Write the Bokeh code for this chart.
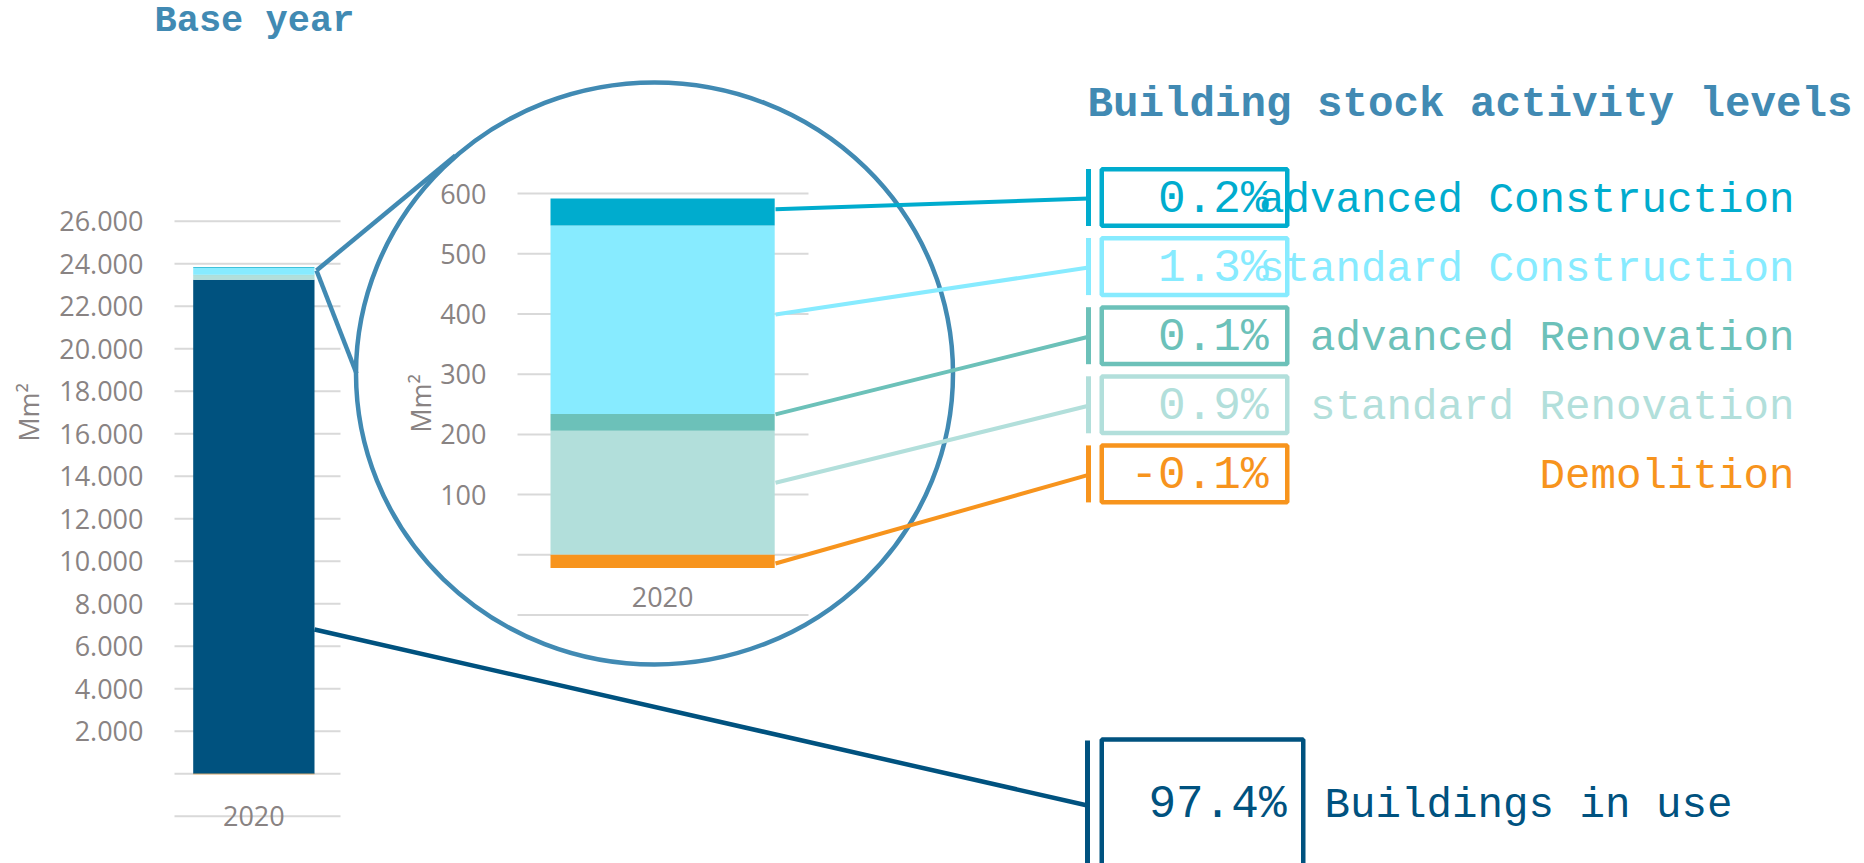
import numpy as np
from bokeh.plotting import figure
from bokeh.models import Range1d
from bokeh.core.properties import value
from bokeh.embed import file_html
from bokeh.resources import INLINE

# ---------------- data ----------------
years = ["2020"]
series = ["Demolition", "standard Renovation", "advanced Renovation",
          "standard Construction", "advanced Construction"]
series_values = [-22, 206, 28, 313, 45]          # Mm², year 2020
series_shares = ["-0.1%", "0.9%", "0.1%", "1.3%", "0.2%"]
in_use_name = "Buildings in use"
in_use_value = 23250                              # Mm², year 2020
in_use_share = "97.4%"

left_grid = [-2000, 0, 2000, 4000, 6000, 8000, 10000, 12000, 14000, 16000,
             18000, 20000, 22000, 24000, 26000]
left_ticks = [2000, 4000, 6000, 8000, 10000, 12000, 14000, 16000, 18000,
              20000, 22000, 24000, 26000]
left_tick_labels = ["2.000", "4.000", "6.000", "8.000", "10.000", "12.000",
                    "14.000", "16.000", "18.000", "20.000", "22.000",
                    "24.000", "26.000"]
inner_grid = [-100, 0, 100, 200, 300, 400, 500, 600]
inner_ticks = [100, 200, 300, 400, 500, 600]
inner_tick_labels = ["100", "200", "300", "400", "500", "600"]

# ---------------- styles ----------------
series_colors = ["#F7941D", "#B2DFDB", "#6CC1B9", "#87EBFF", "#00ACCE"]
in_use_color = "#00527F"
accent = "#418AB3"
grid_color = "#D9D9D9"
tick_color = "#898383"
mono = value("Liberation Mono")
sans = value("Open Sans")

W, H = 1864, 863
DY = -11  # baseline correction for monospace texts


def xr(v0, p0, v1, p1):
    k = (v1 - v0) / (p1 - p0)
    return Range1d(v0 + (0 - p0) * k, v0 + (W - p0) * k)


def yr(v0, p0, v1, p1):
    k = (v1 - v0) / (p1 - p0)
    return Range1d(v0 + (H - p0) * k, v0 + (0 - p0) * k)


p = figure(width=W, height=H, x_range=Range1d(0, W), y_range=Range1d(H, 0),
           output_backend="svg", toolbar_location=None, min_border=0,
           x_axis_type=None, y_axis_type=None, outline_line_color=None,
           background_fill_color="white", border_fill_color="white")

BW = 0.6
p.extra_x_ranges = {"lx": xr(0, 253.35, BW / 2, 314.0),
                    "ix": xr(0, 662.1, BW / 2, 774.2)}
p.extra_y_ranges = {"ly": yr(0, 773.3, 2000, 730.8),
                    "iy": yr(0, 554.3, 100, 494.1)}

# ---------------- left chart (whole stock) ----------------
p.segment(x0=174, x1=340, y0=left_grid, y1=left_grid, y_range_name="ly",
          line_color=grid_color, line_width=2)
p.text(x=143, y=left_ticks, text=left_tick_labels, y_range_name="ly",
       text_align="right", text_baseline="middle", text_font=sans,
       text_font_size="27px", text_color=tick_color)
p.text(x=[0], y=[815], text=years, x_range_name="lx", text_align="center",
       text_baseline="middle", text_font=sans, text_font_size="27px",
       text_color=tick_color)
p.text(x=[28], y=[412], text=["Mm²"], angle=np.pi / 2, text_align="center",
       text_baseline="middle", text_font=sans, text_font_size="27px",
       text_color=tick_color)

pos_vals = np.array([in_use_value] + series_values[1:], dtype=float)
pos_cols = [in_use_color] + series_colors[1:]
tops = np.cumsum(pos_vals)
bots = tops - pos_vals
lb = list(bots) + [series_values[0]]
lt = list(tops) + [0]
p.vbar(x=[0] * len(lb), width=BW, bottom=lb, top=lt,
       fill_color=pos_cols + [series_colors[0]], line_color=None,
       x_range_name="lx", y_range_name="ly")

# ---------------- inner (zoomed) chart ----------------
p.segment(x0=517, x1=808, y0=inner_grid, y1=inner_grid, y_range_name="iy",
          line_color=grid_color, line_width=2)
p.text(x=486, y=inner_ticks, text=inner_tick_labels, y_range_name="iy",
       text_align="right", text_baseline="middle", text_font=sans,
       text_font_size="27px", text_color=tick_color)
p.text(x=[0], y=[596], text=years, x_range_name="ix", text_align="center",
       text_baseline="middle", text_font=sans, text_font_size="27px",
       text_color=tick_color)
p.text(x=[420], y=[403], text=["Mm²"], angle=np.pi / 2, text_align="center",
       text_baseline="middle", text_font=sans, text_font_size="27px",
       text_color=tick_color)

ivals = np.array(series_values[1:], dtype=float)
itops = np.cumsum(ivals)
ibots = itops - ivals
p.vbar(x=[0] * 5, width=BW, bottom=list(ibots) + [series_values[0]],
       top=list(itops) + [0], fill_color=series_colors[1:] + [series_colors[0]],
       line_color=None, x_range_name="ix", y_range_name="iy")

# ---------------- magnifier ----------------
p.ellipse(x=654, y=373, width=597, height=582, fill_color=None,
          line_color=accent, line_width=4.5)
p.segment(x0=[316, 316], y0=[270, 270], x1=[455, 356], y1=[155, 373],
          line_color=accent, line_width=4.5)

# ---------------- callouts ----------------
row_c = [473.4, 404.3, 335.2, 266.1, 197.0]   # demolition ... adv construction
start_y = [563, 482.3, 413.9, 313.9, 208.7]
p.segment(x0=775, x1=1088, y0=start_y, y1=[c + 1 for c in row_c],
          line_color=series_colors, line_width=4)
p.segment(x0=1088, x1=1088, y0=[c - 28.5 for c in row_c],
          y1=[c + 28.5 for c in row_c], line_color=series_colors, line_width=5)
p.rect(x=1194, y=row_c, width=185.5, height=56.6, fill_color=None,
       line_color=series_colors, line_width=4.5)
p.text(x=1268, y=[c + 14 + DY - 1 for c in row_c], text=series_shares,
       text_align="right", text_baseline="alphabetic", text_font=mono,
       text_font_size="46px", text_color=series_colors)
p.text(x=1794, y=[c + 14.5 + DY for c in row_c], text=series,
       text_align="right", text_baseline="alphabetic", text_font=mono,
       text_font_size="42.5px", text_color=series_colors)

# buildings in use callout
p.segment(x0=[314], y0=[629], x1=[1087], y1=[805], line_color=in_use_color,
          line_width=4.5)
p.segment(x0=[1087], x1=[1087], y0=[740], y1=[890], line_color=in_use_color,
          line_width=5)
p.quad(left=[1101.25], right=[1302.75], top=[739], bottom=[890],
       fill_color=None, line_color=in_use_color, line_width=4.5)
p.text(x=[1286], y=[815 + DY], text=[in_use_share], text_align="right",
       text_baseline="alphabetic", text_font=mono, text_font_size="46px",
       text_color=in_use_color)
p.text(x=[1324], y=[816.5 + DY], text=[in_use_name], text_align="left",
       text_baseline="alphabetic", text_font=mono, text_font_size="42.5px",
       text_color=in_use_color)

# ---------------- titles ----------------
p.text(x=[154], y=[30.7 + DY + 1], text=["Base year"], text_align="left",
       text_baseline="alphabetic", text_font=mono, text_font_style="bold",
       text_font_size="37px", text_color=accent)
p.text(x=[1087], y=[115 + DY], text=["Building stock activity levels"],
       text_align="left", text_baseline="alphabetic", text_font=mono,
       text_font_style="bold", text_font_size="42.5px", text_color=accent)

open("out.html", "w").write(file_html(p, INLINE))
